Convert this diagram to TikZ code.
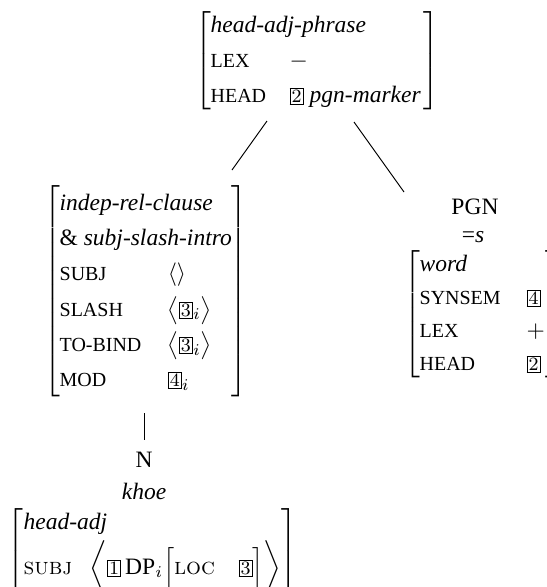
\documentclass[tikz,border=0pt]{standalone}
\usepackage{fontspec}
\setmainfont{Liberation Serif}
\usepackage{amsmath}
\usetikzlibrary{positioning}

\newcommand{\feat}[1]{{\fontsize{8.5}{10}\selectfont #1}}
\newcommand{\lmsc}[1]{{\fontfamily{lmr}\selectfont\scshape #1}}
\newcommand{\tagnum}[1]{{\setlength{\fboxsep}{0.5pt}\fbox{\fontfamily{lmr}\selectfont\footnotesize #1}}}
\renewcommand{\arraystretch}{1.25}

\tikzset{avm/.style={inner sep=0pt, outer sep=0pt, anchor=west},
  lbl/.style={inner sep=0pt}}

\begin{document}
\begin{tikzpicture}[x=0.4255pt, y=-0.4255pt]
\useasboundingbox (0,0) rectangle (546,587);
% mother
\node[avm] (phrase) at (195,60.5) {$\left[\begin{tabular}{@{}p{33.6pt}@{}l@{\hspace{1pt}}}
\multicolumn{2}{@{}l@{}}{\textit{head-adj-phrase}}\\
\feat{LEX} & $-$\\
\feat{HEAD} & \tagnum{2} \textit{pgn-marker}
\end{tabular}\right]$};
% left daughter
\node[avm] (clause) at (44,291.5) {$\left[\begin{tabular}{@{}p{46pt}@{}p{27pt}@{}}
\multicolumn{2}{@{}l@{}}{\textit{indep-rel-clause}}\\
\multicolumn{2}{@{}l@{}}{\& \textit{subj-slash-intro}}\\
\feat{SUBJ} & $\langle\rangle$\\
\feat{SLASH} & $\big\langle\tagnum{3}_i\big\rangle$\\
\feat{TO-BIND} & $\big\langle\tagnum{3}_i\big\rangle$\\
\feat{MOD} & \tagnum{4}$_i$
\end{tabular}\right]$};
% right daughter
\node[lbl] (pgn) at (475,207) {PGN};
\node[lbl] (clitic) at (473,237) {=\textit{s}};
\node[avm] (word) at (404,314.5) {\renewcommand{\arraystretch}{1.17}$\left[\begin{tabular}{@{}p{45.5pt}@{}p{8pt}@{}}
\multicolumn{2}{@{}l@{}}{\textit{word}}\\
\feat{SYNSEM} & \tagnum{4}\\
\feat{LEX} & $+$\\
\feat{HEAD} & \tagnum{2}
\end{tabular}\right]$};
% noun
\node[lbl] (n) at (144,460) {N};
\node[lbl] (khoe) at (144,491) {\textit{khoe}};
\node[avm, anchor=north west] (noun) at (8,505) {$\left[\begin{tabular}{@{}p{28pt}@{}l@{}}
\multicolumn{2}{@{}l@{}}{\textit{head-adj}}\\
\lmsc{subj} & $\bigg\langle\tagnum{1}\,\mathrm{DP}_i\Big[\text{\lmsc{loc}}\quad\tagnum{3}\Big]\bigg\rangle$
\end{tabular}\right]$};

\coordinate (phrase-l) at (267,121);
\coordinate (clause-t) at (232,170);
\coordinate (phrase-r) at (354,122);
\coordinate (pgn-t) at (404,192);
\coordinate (clause-b) at (144,413);
\coordinate (n-t) at (144,440);
\draw (phrase-l) -- (clause-t);
\draw (phrase-r) -- (pgn-t);
\draw (clause-b) -- (n-t);
\end{tikzpicture}
\end{document}
